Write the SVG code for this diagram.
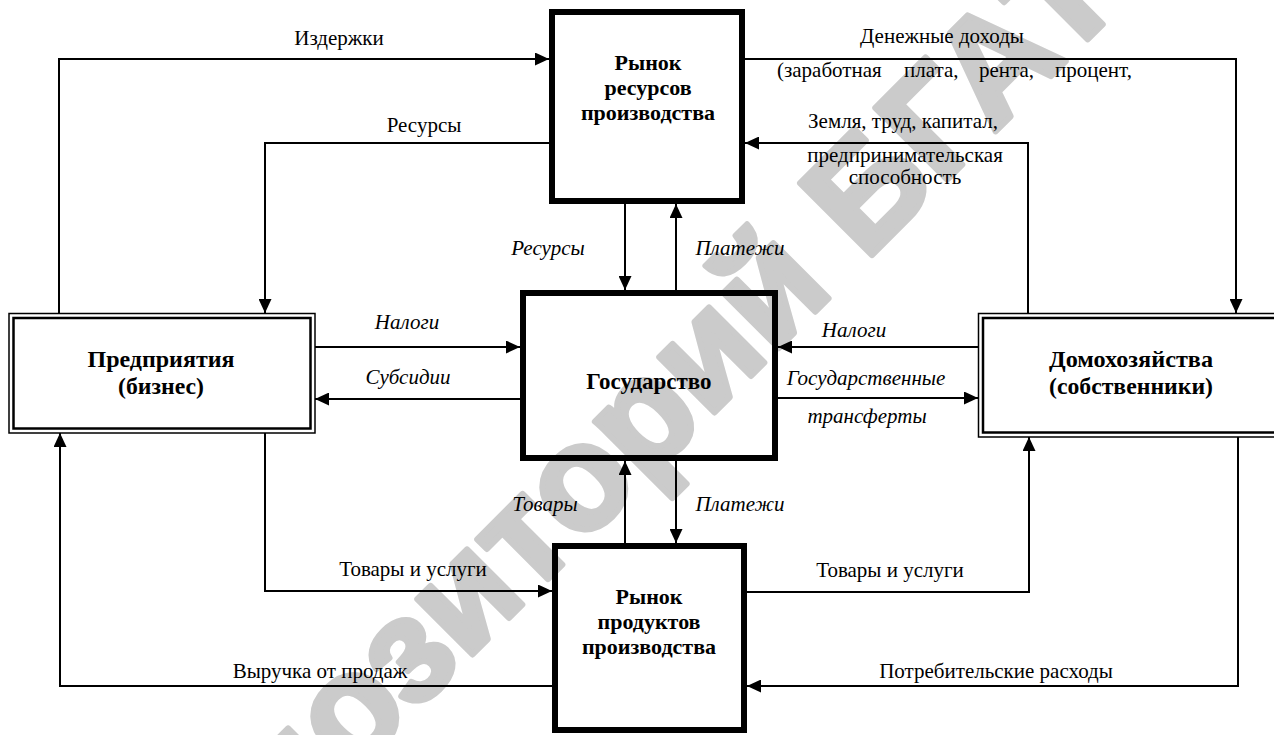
<svg xmlns="http://www.w3.org/2000/svg" width="1274" height="735" viewBox="0 0 1274 735">
<defs>
<style>
.t{font-family:"Liberation Serif","Times New Roman",serif;font-size:21px;fill:#000}
.i{font-style:italic}
.b{font-weight:bold}
.m{text-anchor:middle}
.bm{font-size:22px}
.bs{font-size:23px}
.ln{fill:none;stroke:#000;stroke-width:2}
.thick{fill:none;stroke:#000;stroke-width:6}
.dbl1{fill:none;stroke:#000;stroke-width:1.5}
.dbl2{fill:none;stroke:#000;stroke-width:2.5}
.wm{font-family:"Liberation Sans",Arial,sans-serif;font-weight:bold;font-size:148px;fill:#cbcbcb;stroke:#cbcbcb;stroke-width:6;stroke-linejoin:round}
</style>
<marker id="ah" markerUnits="userSpaceOnUse" markerWidth="14" markerHeight="13" refX="14" refY="6.5" orient="auto" viewBox="0 0 14 13">
<path d="M0,0 L14,6.5 L0,13 z" fill="#000"/>
</marker>
</defs>
<rect width="1274" height="735" fill="#fff"/>
<text class="wm" transform="translate(162,965) rotate(-45)">Репозиторий БГАТУ</text>

<g id="connectors">
<path class="ln" d="M59,313 V59 H549" marker-end="url(#ah)"/>
<path class="ln" d="M549,143 H265 V313" marker-end="url(#ah)"/>
<path class="ln" d="M745,59 H1236 V313" marker-end="url(#ah)"/>
<path class="ln" d="M1028,313 V143 H745" marker-end="url(#ah)"/>
<path class="ln" d="M625,204 V290" marker-end="url(#ah)"/>
<path class="ln" d="M676,290 V204" marker-end="url(#ah)"/>
<path class="ln" d="M315,347 H520" marker-end="url(#ah)"/>
<path class="ln" d="M520,399 H315" marker-end="url(#ah)"/>
<path class="ln" d="M978,347 H778" marker-end="url(#ah)"/>
<path class="ln" d="M778,398 H978" marker-end="url(#ah)"/>
<path class="ln" d="M625,543 V461" marker-end="url(#ah)"/>
<path class="ln" d="M676,461 V543" marker-end="url(#ah)"/>
<path class="ln" d="M265,433 V591 H552" marker-end="url(#ah)"/>
<path class="ln" d="M552,686 H60 V433" marker-end="url(#ah)"/>
<path class="ln" d="M747,592 H1029 V437" marker-end="url(#ah)"/>
<path class="ln" d="M1238,437 V686 H747" marker-end="url(#ah)"/>
</g>

<g id="labels">
<text class="t m" x="339" y="45">Издержки</text>
<text class="t m" x="424" y="132">Ресурсы</text>
<text class="t m" x="942" y="43">Денежные доходы</text>
<text class="t" y="77"><tspan x="777">(заработная</tspan><tspan x="904">плата,</tspan><tspan x="979">рента,</tspan><tspan x="1055">процент,</tspan></text>
<text class="t m" x="903" y="128">Земля, труд, капитал,</text>
<text class="t m" x="905" y="162">предпринимательская</text>
<text class="t m" x="905" y="184">способность</text>
<text class="t i m" x="548" y="255">Ресурсы</text>
<text class="t i m" x="740" y="255">Платежи</text>
<text class="t i m" x="407" y="329">Налоги</text>
<text class="t i m" x="408" y="384">Субсидии</text>
<text class="t i m" x="854" y="337">Налоги</text>
<text class="t i m" x="866" y="385">Государственные</text>
<text class="t i m" x="867" y="423">трансферты</text>
<text class="t i m" x="545" y="511">Товары</text>
<text class="t i m" x="740" y="511">Платежи</text>
<text class="t m" x="413" y="576">Товары и услуги</text>
<text class="t m" x="890" y="577">Товары и услуги</text>
<text class="t m" x="320" y="678">Выручка от продаж</text>
<text class="t m" x="996" y="678">Потребительские расходы</text>
</g>

<g id="node-resources">
<rect class="thick" x="552" y="12" width="190" height="189"/>
<text class="t b m bm" x="648" y="70">Рынок</text>
<text class="t b m bm" x="648" y="95">ресурсов</text>
<text class="t b m bm" x="648" y="120">производства</text>
</g>

<g id="node-state">
<rect class="thick" x="523" y="293" width="252" height="165"/>
<text class="t b m bs" x="649" y="389">Государство</text>
</g>

<g id="node-products">
<rect class="thick" x="555" y="546" width="189" height="184"/>
<text class="t b m bm" x="649" y="604">Рынок</text>
<text class="t b m bm" x="649" y="629">продуктов</text>
<text class="t b m bm" x="649" y="654">производства</text>
</g>

<g id="node-business">
<rect class="dbl1" x="9" y="313.5" width="306" height="119.5"/>
<rect class="dbl2" x="13.5" y="318" width="297" height="110.5"/>
<text class="t b m bs" x="161" y="367" textLength="147" lengthAdjust="spacingAndGlyphs">Предприятия</text>
<text class="t b m bs" x="161" y="394" textLength="86" lengthAdjust="spacingAndGlyphs">(бизнес)</text>
</g>

<g id="node-households">
<rect class="dbl1" x="978.5" y="313.5" width="310" height="123.5"/>
<rect class="dbl2" x="983" y="318" width="300" height="114.5"/>
<text class="t b m bs" x="1131" y="367" textLength="164" lengthAdjust="spacingAndGlyphs">Домохозяйства</text>
<text class="t b m bs" x="1131" y="394" textLength="164" lengthAdjust="spacingAndGlyphs">(собственники)</text>
</g>
</svg>
